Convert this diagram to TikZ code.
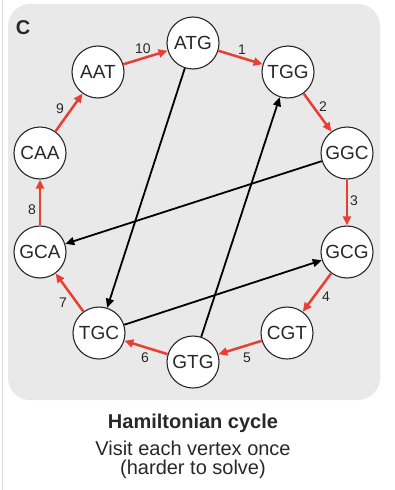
\documentclass[tikz,border=0pt]{standalone}
\usepackage{fontspec}
\setmainfont{Liberation Sans}
\usetikzlibrary{arrows.meta}
\definecolor{panel}{RGB}{233,233,233}
\definecolor{cycred}{RGB}{232,62,52}
\definecolor{ink}{RGB}{40,40,40}
\begin{document}
\begin{tikzpicture}[x=1pt,y=-1pt,
  vtx/.style={circle, draw=ink, line width=1.1pt, fill=white, minimum size=52pt, inner sep=0pt, font=\fontsize{19}{19}\selectfont, text=ink},
  cycedge/.style={draw=cycred, line width=2.5pt, -{Triangle[length=9pt,width=8pt]}},
  blkedge/.style={draw=black, line width=1.8pt, -{Triangle[length=9pt,width=8pt]}},
  lab/.style={font=\fontsize{14}{14}\selectfont, text=ink, inner sep=0pt},
  caption/.style={font=\fontsize{20}{20}\selectfont, text=ink, inner sep=0pt}]
\useasboundingbox (0,0) rectangle (395,490);
\fill[white] (0,0) rectangle (395,490);
\draw[gray!30, line width=1pt] (2.5,0) -- (2.5,490);
\fill[panel, rounded corners=22pt] (8,4) rectangle (380,400);
\node[font=\bfseries\fontsize{20}{20}\selectfont, text=ink, inner sep=0pt] (panellabel) at (23,28) {C};
% vertices
\node[vtx] (ATG) at (193,43) {ATG};
\node[vtx] (TGG) at (288,72) {TGG};
\node[vtx] (GGC) at (347,153) {GGC};
\node[vtx] (GCG) at (347,252) {GCG};
\node[vtx] (CGT) at (287,333) {CGT};
\node[vtx] (GTG) at (193,362) {GTG};
\node[vtx] (TGC) at (99,333) {TGC};
\node[vtx] (GCA) at (40,252) {GCA};
\node[vtx] (CAA) at (40,153) {CAA};
\node[vtx] (AAT) at (98,72) {AAT};
% black edges
\draw[blkedge] (ATG) -- (TGC);
\draw[blkedge] (GTG) -- (TGG);
\draw[blkedge] (GGC) -- (GCA);
\draw[blkedge] (TGC) -- (GCG);
% red cycle
\draw[cycedge] (ATG) -- (TGG);
\draw[cycedge] (TGG) -- (GGC);
\draw[cycedge] (GGC) -- (GCG);
\draw[cycedge] (GCG) -- (CGT);
\draw[cycedge] (CGT) -- (GTG);
\draw[cycedge] (GTG) -- (TGC);
\draw[cycedge] (TGC) -- (GCA);
\draw[cycedge] (GCA) -- (CAA);
\draw[cycedge] (CAA) -- (AAT);
\draw[cycedge] (AAT) -- (ATG);
% edge numbers
\node[lab] (n1) at (242,50) {1};
\node[lab] (n2) at (323,107) {2};
\node[lab] (n3) at (354,201) {3};
\node[lab] (n4) at (326,297) {4};
\node[lab] (n5) at (247,358) {5};
\node[lab] (n6) at (145,358) {6};
\node[lab] (n7) at (63,303) {7};
\node[lab] (n8) at (32,210) {8};
\node[lab] (n9) at (60,109) {9};
\node[lab] (n10) at (143,49) {10};
% caption
\node[caption, font=\bfseries\fontsize{20}{20}\selectfont] (title) at (193,423) {Hamiltonian cycle};
\node[caption] (sub1) at (193,448) {Visit each vertex once};
\node[caption] (sub2) at (193,469) {(harder to solve)};
\end{tikzpicture}
\end{document}
